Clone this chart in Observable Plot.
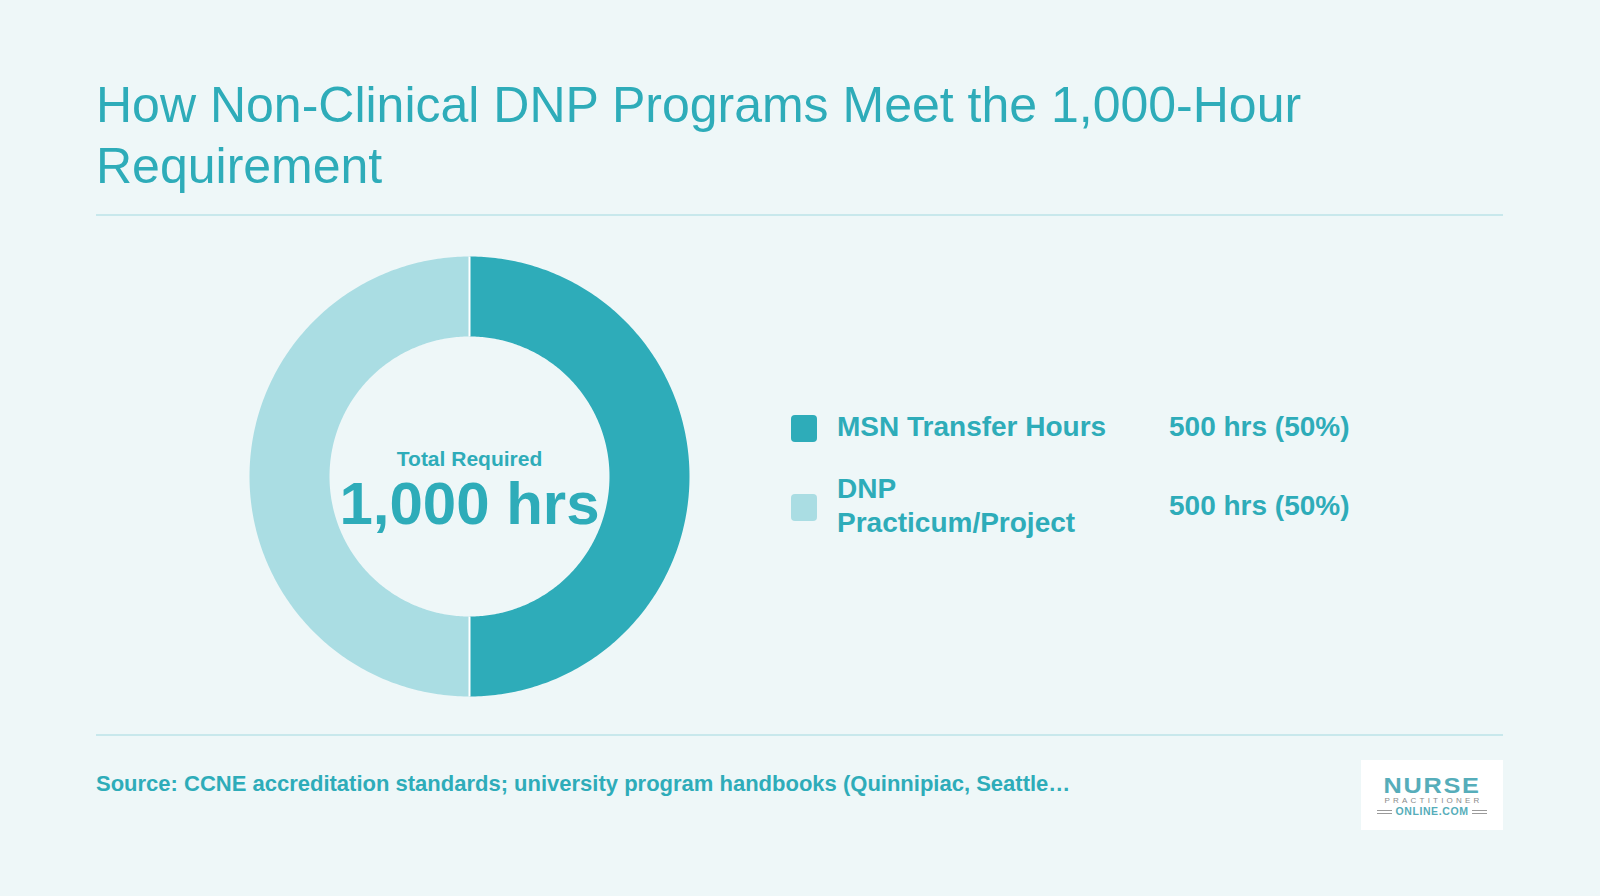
<!DOCTYPE html>
<html>
<head>
<meta charset="utf-8">
<script src="https://cdn.jsdelivr.net/npm/d3@7"></script>
<script src="https://cdn.jsdelivr.net/npm/@observablehq/plot@0.6"></script>
<style>
  html, body { margin: 0; padding: 0; }
  body { width: 1600px; height: 896px; background: #eef7f8; position: relative; overflow: hidden;
         font-family: "Liberation Sans", Arial, Helvetica, sans-serif; color: #2eacb9; }
  .abs { position: absolute; }
  #title { left: 96px; top: 75px; width: 1410px; font-size: 50px; line-height: 61px; font-weight: 400; }
  .rule { left: 96px; width: 1407px; height: 2px; background: #c8e8ec; }
  #chart { left: 239px; top: 246px; }
  .sw { width: 26px; height: 27px; border-radius: 4px; }
  .lab { font-size: 28px; font-weight: 700; line-height: 34px; }
  #source { left: 96px; top: 771px; font-size: 22px; font-weight: 700; line-height: 26px; white-space: nowrap; }
  #logo { left: 1361px; top: 760px; width: 142px; height: 70px; background: #ffffff; }
  #logo div { position: absolute; left: 0; width: 100%; text-align: center; white-space: nowrap; }
  #logo .n { top: 15px; font-size: 22px; font-weight: 700; letter-spacing: 1.5px; color: #56adba; line-height: 22px;
             transform: scaleX(1.15); transform-origin: 50% 50%; }
  #logo .p { top: 36px; font-size: 8px; letter-spacing: 3.2px; color: #8a8a8a; line-height: 10px; text-indent: 3px; }
  #logo .o { top: 45px; font-size: 10.5px; font-weight: 700; color: #56adba; line-height: 12px; letter-spacing: 0.6px; }
  #logo .o span.l { display: inline-block; width: 15px; height: 2px; border-top: 1.5px solid #9a9a9a; border-bottom: 1.5px solid #9a9a9a;
             vertical-align: middle; margin: 0 3px; }
</style>
</head>
<body>
<div id="title" class="abs"></div>
<div class="abs rule" style="top:214px"></div>
<div id="chart" class="abs"></div>
<div id="legend"></div>
<div class="abs rule" style="top:734px"></div>
<div id="source" class="abs"></div>
<div id="logo" class="abs"><div class="n">NURSE</div><div class="p">PRACTITIONER</div><div class="o"><span class="l"></span>ONLINE.COM<span class="l"></span></div></div>
<script>
const titleText = "How Non-Clinical DNP Programs Meet the 1,000-Hour Requirement";
const categories = ["MSN Transfer Hours", "DNP Practicum/Project"];
const hours = [500, 500];
const shares = ["50%", "50%"];
const colors = ["#2eacb9", "#aadde3"];
const centerLabel = "Total Required";
const totalLabel = "1,000 hrs";
const sourceText = "Source: CCNE accreditation standards; university program handbooks (Quinnipiac, Seattle…";

document.getElementById("title").textContent = titleText;
document.getElementById("source").textContent = sourceText;

const inner = 140 / 220;
const pie = d3.pie().sort(null).value(d => d.hours)(categories.map((c, i) => ({cat: c, hours: hours[i]})));
function slicePoints(p) {
  const n = 240, pts = [];
  for (let k = 0; k <= n; k++) {
    const a = p.startAngle + (p.endAngle - p.startAngle) * k / n;
    pts.push({cat: p.data.cat, x: Math.sin(a), y: Math.cos(a)});
  }
  for (let k = n; k >= 0; k--) {
    const a = p.startAngle + (p.endAngle - p.startAngle) * k / n;
    pts.push({cat: p.data.cat, x: inner * Math.sin(a), y: inner * Math.cos(a)});
  }
  return pts;
}
const marks = pie.map((p, i) => Plot.line(slicePoints(p), {
  x: "x", y: "y", fill: colors[i], stroke: "none", curve: "linear-closed"
}));
// white separators at slice boundaries
const bounds = pie.map(p => p.startAngle);
marks.push(Plot.link(bounds, {
  x1: a => inner * Math.sin(a), y1: a => inner * Math.cos(a),
  x2: a => Math.sin(a), y2: a => Math.cos(a),
  stroke: "#ffffff", strokeWidth: 2
}));
marks.push(Plot.text([centerLabel], {frameAnchor: "middle", text: d => d, dy: -17, fontSize: 21, fontWeight: "bold", fill: "#2eacb9"}));
marks.push(Plot.text([totalLabel], {frameAnchor: "middle", text: d => d, dy: 28, fontSize: 60, fontWeight: "bold", fill: "#2eacb9"}));

const R = 1.0455;
const chart = Plot.plot({
  width: 460, height: 460, margin: 0,
  x: {domain: [-R, R], axis: null},
  y: {domain: [-R, R], axis: null},
  style: {background: "transparent", fontFamily: "Liberation Sans, Arial, sans-serif", overflow: "visible"},
  marks
});
document.getElementById("chart").appendChild(chart);

const legend = document.getElementById("legend");
const rowCenters = [428, 507];
const labelTops = [410, 472];
categories.forEach((c, i) => {
  const sw = document.createElement("div");
  sw.className = "abs sw";
  sw.style.left = "791px"; sw.style.top = (rowCenters[i] - 13.5) + "px"; sw.style.background = colors[i];
  legend.appendChild(sw);
  const lab = document.createElement("div");
  lab.className = "abs lab";
  lab.style.left = "837px"; lab.style.top = labelTops[i] + "px"; lab.style.width = "290px";
  lab.textContent = c;
  legend.appendChild(lab);
  const val = document.createElement("div");
  val.className = "abs lab";
  val.style.left = "1169px"; val.style.top = (rowCenters[i] - 18) + "px"; val.style.whiteSpace = "nowrap";
  val.textContent = `${hours[i]} hrs (${shares[i]})`;
  legend.appendChild(val);
});
</script>
</body>
</html>
